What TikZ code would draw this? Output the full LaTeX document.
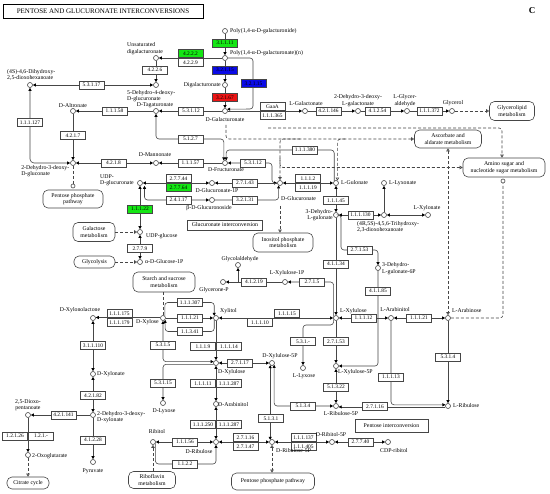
\documentclass[tikz,border=0pt]{standalone}
\usepackage{fontspec}
\setmainfont{Liberation Serif}
\usetikzlibrary{arrows.meta}
\definecolor{kgreen}{RGB}{20,230,20}
\definecolor{kblue}{RGB}{10,10,230}
\definecolor{kred}{RGB}{235,20,20}
\definecolor{kline}{RGB}{70,70,70}
\newcommand{\klf}{\fontsize{5.8}{6.3}\selectfont}
\newcommand{\kef}{\fontsize{5.4}{5.4}\selectfont}
\tikzset{
  cpd/.style={circle,draw=kline,fill=white,line width=0.6pt,inner sep=0pt,minimum size=5pt},
  jcpd/.style={circle,draw=kline,fill=white,line width=0.6pt,inner sep=0pt,minimum size=4pt},
  enz/.style={draw=kline,fill=white,line width=0.6pt,inner sep=0pt,minimum width=25pt,minimum height=8pt,font=\kef},
  genz/.style={enz,fill=kgreen},
  benz/.style={enz,fill=kblue},
  renz/.style={enz,fill=kred},
  lbl/.style={inner sep=0pt,font=\klf,align=center},
  mapbox/.style={draw=kline,fill=white,rounded corners=5pt,line width=0.6pt,inner sep=0pt,font=\klf,align=center},
  rbox/.style={draw=kline,fill=white,line width=0.6pt,inner sep=0pt,font=\klf,align=center},
  cn/.style={draw=kline,line width=0.6pt},
  ar/.style={cn,-{Triangle[length=3pt,width=3pt,color=black]}},
  ba/.style={cn,{Triangle[length=3pt,width=3pt,color=black]}-{Triangle[length=3pt,width=3pt,color=black]}},
  dl/.style={cn,dash pattern=on 3pt off 2pt},
  da/.style={dl,-{Triangle[open,length=3pt,width=3.5pt]}},
  dab/.style={dl,{Triangle[open,length=3pt,width=3.5pt]}-{Triangle[open,length=3pt,width=3.5pt]}},
}
\begin{document}
\begin{tikzpicture}[x=1pt,y=-1pt]
\useasboundingbox (0,0) rectangle (550,494);
\fill[white] (0,0) rectangle (550,494);

% title
\node[draw=black,line width=0.9pt,minimum width=200pt,minimum height=14pt,inner sep=0pt,font=\fontsize{7}{7}\selectfont] (title) at (103,11) {PENTOSE AND GLUCURONATE INTERCONVERSIONS};
\node[inner sep=0pt,font=\bfseries\fontsize{9}{9}\selectfont] (letterC) at (532,11) {C};

% compounds
\node[cpd] (poly1) at (225,31) {};
\node[cpd] (polyn) at (225,58) {};
\node[cpd] (unsat) at (156,58) {};
\node[cpd] (digal) at (225,85) {};
\node[cpd] (dgal) at (225,111) {};
\node[cpd] (dh4) at (156,85) {};
\node[cpd] (tag) at (156,111) {};
\node[cpd] (s46) at (30,85) {};
\node[cpd] (altr) at (73,111) {};
\node[cpd] (dd3g) at (73,163) {};
\node[cpd] (manno) at (156,163) {};
\node[cpd] (fruc) at (225,163) {};
\node[cpd] (udpA) at (140,183) {};
\node[cpd] (gA1P) at (212,183) {};
\node[cpd] (bglc) at (212,200) {};
\node[cpd] (glcA) at (280,183) {};
\node[cpd] (lgul) at (336,183) {};
\node[cpd] (dhlg) at (336,215) {};
\node[cpd] (trih) at (384,215) {};
\node[cpd] (llyx) at (384,183) {};
\node[cpd] (lxyl) at (428,215) {};
\node[cpd] (dhlg6) at (378,268) {};
\node[cpd] (udpg) at (140,232) {};
\node[cpd] (ag1p) at (140,262) {};
\node[cpd] (glyald) at (238,265) {};
\node[cpd] (glyp) at (223,282) {};
\node[cpd] (lxu1p) at (285,282) {};
\node[cpd] (dxyl) at (163,318) {};
\node[cpd] (xylt) at (216,318) {};
\node[cpd] (lxylu) at (336,318) {};
\node[cpd] (larab) at (391,318) {};
\node[cpd] (lara) at (448,318) {};
\node[cpd] (dxln) at (93,318) {};
\node[cpd] (dxla) at (93,374) {};
\node[cpd] (dd3x) at (93,415) {};
\node[cpd] (dioxo) at (28,415) {};
\node[cpd] (oxog) at (28,455) {};
\node[cpd] (pyr) at (93,462) {};
\node[cpd] (dxu) at (216,363) {};
\node[cpd] (dxu5p) at (272,363) {};
\node[cpd] (dlyx) at (163,403) {};
\node[cpd] (darab) at (216,404) {};
\node[cpd] (drib) at (216,442) {};
\node[cpd] (ribt) at (153,442) {};
\node[cpd] (dru5p) at (272,442) {};
\node[cpd] (drt5p) at (332,442) {};
\node[cpd] (cdp) at (388,442) {};
\node[cpd] (lxu5p) at (336,366) {};
\node[cpd] (llyxo) at (303,368) {};
\node[cpd] (lru5p) at (336,406) {};
\node[cpd] (lrib) at (448,406) {};
\node[cpd] (lgal) at (305,111) {};
\node[cpd] (dd3l) at (358,111) {};
\node[cpd] (lgly) at (407,111) {};
\node[cpd] (glyc) at (452,111) {};
\node[jcpd] (ppc) at (73,186) {};
\node[jcpd] (amc) at (503,181) {};

% pathway boxes
\node[mapbox,minimum width=45pt,minimum height=19pt] (glip) at (512,111) {Glycerolipid\\metabolism};
\node[mapbox,minimum width=67pt,minimum height=18pt] (asc) at (448,139) {Ascorbate and\\aldarate metabolism};
\node[mapbox,minimum width=82pt,minimum height=19pt] (amino) at (504,167.5) {Amino sugar and\\nucleotide sugar metabolism};
\node[mapbox,minimum width=60pt,minimum height=18pt] (ppt) at (73,199) {Pentose phosphate\\pathway};
\node[mapbox,minimum width=42pt,minimum height=19pt] (galm) at (94,232) {Galactose\\metabolism};
\node[mapbox,minimum width=41pt,minimum height=12pt] (glycm) at (94.5,262) {Glycolysis};
\node[mapbox,minimum width=62pt,minimum height=20pt] (starch) at (164,282) {Starch and sucrose\\metabolism};
\node[mapbox,minimum width=60pt,minimum height=19pt] (inos) at (283,242.5) {Inositol phosphate\\metabolism};
\node[mapbox,minimum width=42pt,minimum height=12pt] (citr) at (28,483) {Citrate cycle};
\node[mapbox,minimum width=47pt,minimum height=17pt] (ribof) at (152,480) {Riboflavin\\metabolism};
\node[mapbox,minimum width=83pt,minimum height=17pt] (ppb) at (273,481.5) {Pentose phosphate pathway};
\node[rbox,minimum width=75pt,minimum height=10pt] (gic) at (225,225) {Glucuronate interconversion};
\node[rbox,minimum width=73pt,minimum height=13pt] (pic) at (391.5,425.5) {Pentose interconversion};

% bend / junction coordinates
\coordinate (dgd) at (226,125);
\coordinate (j1) at (280,158);
\coordinate (j2) at (300,139);
\coordinate (j3) at (345,139);
\coordinate (j4) at (238,282);
\coordinate (j5) at (268,128);
\coordinate (c53) at (303,325);
\coordinate (gdash) at (280,206);

% connectors (top)
\draw[ar] (poly1) -- (polyn);
\draw[ar] (polyn) -- (unsat);
\draw[ar] (unsat) -- (dh4);
\draw[ar] (polyn) -- (digal);
\draw[ar,rounded corners=3pt] (polyn.east) -- (253,58) -- (253,109) -- (dgal.40);
\draw[ar] (digal) -- (dgal);
\draw[ba] (dh4) -- (s46);
\draw[ar] (dgal) -- (tag);
\draw[ar] (tag) -- (altr);
\draw[ar] (altr) -- (dd3g);
\draw[ba,rounded corners=4pt] (dd3g.west) -| (s46.south);
\draw[ba] (manno) -- (dd3g);
\draw[ar] (fruc) -- (manno);
\draw[ba,rounded corners=3pt] (tag.south) |- (200,139) -| (fruc.115);
\draw[ar,rounded corners=3pt] (lgul.130) |- (300,150) -| (fruc.65);
\draw[ba,rounded corners=3pt] (fruc.east) -- (272,163) |- (glcA.west);
\draw[ar] (dgal) -- (lgal);
\draw[ar] (lgal) -- (dd3l);
\draw[ar] (dd3l) -- (lgly);
\draw[ar] (lgly) -- (glyc);
\draw[da] (glyc) -- (glip);
\draw[dl] (dd3g) -- (ppc);

% dashed network
\draw[da,rounded corners=3pt] (dgd) |- (asc.west);
\draw[da,rounded corners=3pt] (j5) -| ([xshift=-2pt]amino.north);
\draw[da,rounded corners=3pt] (j2) -| (glcA.north);
\draw[da,rounded corners=3pt] (j3) -| (lgul.60);
\draw[da,rounded corners=3pt] (j1) |- (amino.west);
\draw[da] (gdash) -- (gdash |- inos.north);
\draw[dab] (asc.south) -- (lara.north);
\draw[dl,rounded corners=3pt] (lara.east) -| (amc.south);

% glucuronate block
\draw[ba] (udpA) -- (gA1P);
\draw[ar] (glcA) -- (gA1P);
\draw[ba,rounded corners=3pt] ([xshift=4.5pt]udpA.south) |- (bglc.west);
\draw[ar,rounded corners=3pt] (bglc.east) -| (glcA.240);
\draw[ba] (glcA) -- (lgul);
\draw[ba] (lgul) -- (dhlg);
\draw[ba] (dhlg) -- (trih);
\draw[ar] (trih) -- (llyx);
\draw[ba] (trih) -- (lxyl);
\draw[ar,rounded corners=3pt] (dhlg.east) -| (341,250) -| (dhlg6.north);
\draw[ar] (dhlg) -- (lxylu);
\draw[ar,rounded corners=3pt] (dhlg6.south) |- (lxu5p.east);
\draw[ba] (udpg) -- (udpA);
\draw[da] (galm) -- (udpg);
\draw[ba] (udpg) -- (ag1p);
\draw[da] (glycm) -- (ag1p);
\draw[ar] (lxu1p) -- (glyp);
\draw[ar] (j4) -- (glyald);
\draw[ar,rounded corners=3pt] (lxylu.150) |- (lxu1p.east);

% xylose block
\draw[dl] (dxyl |- starch.south) -- (dxyl.north);
\draw[ar,rounded corners=3pt] (dxyl.50) |- (190,302.5) -| (xylt.130);
\draw[ar,rounded corners=3pt] (xylt.230) |- (190,331.5) -| (dxyl.-40);
\draw[ar] (dxyl) -- (xylt);
\draw[ar] (xylt) -- (dxu);
\draw[ba] (xylt) -- (lxylu);
\draw[ba] (larab) -- (lxylu);
\draw[ba] (larab) -- (lara);
\draw[ar] (lara) -- (lrib);
\draw[ar,rounded corners=3pt] (larab.south) |- (lrib.155);
\draw[ar] (lrib.200) -- (lru5p.-20);
\draw[ar] (lxylu) -- (lxu5p);
\draw[ba] (lxu5p) -- (lru5p);
\draw[ba,rounded corners=3pt] (lru5p.west) -| (dxu5p.-40);
\draw[ar,rounded corners=3pt] (lxylu.210) |- (c53) -- (llyxo.north);
\draw[ba,rounded corners=3pt] (dxyl.south) |- (dxu.150);
\draw[ar,rounded corners=3pt] (dxu.210) -| (dlyx.north);
\draw[ba] (dxu) -- (dxu5p);
\draw[ba] (dxu) -- (darab);
\draw[ba] (darab) -- (drib);
\draw[ba] (ribt) -- (drib);
\draw[ar,rounded corners=3pt] (ribt.-30) |- (185,464) -| (drib.south);
\draw[da] (ribt.south |- ribof.north) -- (ribt.south);
\draw[ba] (drib) -- (dru5p);
\draw[ba] (dxu5p.-130) -- (dru5p.130);
\draw[ba] (drt5p) -- (dru5p);
\draw[ba] (drt5p) -- (cdp);
\draw[dab] (dru5p.south) -- (dru5p.south |- ppb.north);

% xylonate block
\draw[ar] (dxyl.170) -- (dxln.10);
\draw[ba] (dxln) -- (dxla);
\draw[ba] (dxla) -- (dd3x);
\draw[ar] (dd3x) -- (dioxo);
\draw[ar] (dioxo) -- (oxog);
\draw[da] (oxog) -- (citr);
\draw[ar] (dd3x) -- (pyr);

% enzymes
\node[genz] (e1) at (225,43) {3.1.1.11};
\node[genz] (e2) at (190.5,53.5) {4.2.2.2};
\node[enz] (e3) at (190.5,62.5) {4.2.2.9};
\node[enz] (e4) at (155,70) {4.2.2.6};
\node[benz] (e5) at (225,70) {3.2.1.15};
\node[benz] (e6) at (253.5,83.5) {3.2.1.15};
\node[renz] (e7) at (225,97.5) {3.2.1.67};
\node[enz] (e8) at (91.5,85) {5.3.1.17};
\node[enz] (e9) at (114.5,111) {1.1.1.58};
\node[enz] (e10) at (30,122.5) {1.1.1.127};
\node[enz] (e11) at (73,135.5) {4.2.1.7};
\node[enz] (e12) at (113.5,163) {4.2.1.8};
\node[enz] (e13) at (191,111) {5.3.1.12};
\node[enz] (e14) at (190.5,139) {5.1.2.7};
\node[enz] (e15) at (190.5,163) {1.1.1.57};
\node[enz] (e16) at (253,163) {5.3.1.12};
\node[enz] (e17) at (272.5,106.5) {GaaA};
\node[enz] (e18) at (272.5,115.5) {1.1.1.365};
\node[enz] (e19) at (328.5,111) {4.2.1.146};
\node[enz] (e20) at (377.5,111) {4.1.2.54};
\node[enz] (e21) at (429.5,111) {1.1.1.372};
\node[enz] (e22) at (305,150) {1.1.1.380};
\node[enz] (e23) at (178.5,178.5) {2.7.7.44};
\node[genz] (e24) at (178.5,187.5) {2.7.7.64};
\node[enz] (e25) at (245,183) {2.7.1.43};
\node[enz] (e26) at (178.5,200) {2.4.1.17};
\node[enz] (e27) at (245,200) {3.2.1.31};
\node[enz] (e28) at (308,178.5) {1.1.1.2};
\node[enz] (e29) at (308,187.5) {1.1.1.19};
\node[enz] (e30) at (336,200.5) {1.1.1.45};
\node[enz] (e31) at (360.5,215) {1.1.1.130};
\node[genz] (e32) at (140,209) {1.1.1.22};
\node[enz] (e33) at (140,248.5) {2.7.7.9};
\node[enz] (e34) at (359.5,250) {2.7.1.53};
\node[enz] (e35) at (336,264) {4.1.1.34};
\node[enz] (e36) at (378,291) {4.1.1.85};
\node[enz] (e37) at (254,282) {4.1.2.19};
\node[enz] (e38) at (312,282) {2.7.1.5};
\node[enz] (e39) at (190,302.5) {1.1.1.307};
\node[enz] (e40) at (190,318) {1.1.1.21};
\node[enz] (e41) at (190,331.5) {1.1.3.41};
\node[enz] (e42) at (287,313.5) {1.1.1.15};
\node[enz] (e43) at (260,322.5) {1.1.1.10};
\node[enz] (e44) at (363.5,318) {1.1.1.12};
\node[enz] (e45) at (419,318) {1.1.1.21};
\node[enz] (e46) at (119.5,313.5) {1.1.1.175};
\node[enz] (e47) at (119.5,322.5) {1.1.1.179};
\node[enz] (e48) at (93,345.5) {3.1.1.110};
\node[enz] (e49) at (163,345) {5.3.1.5};
\node[enz] (e50) at (203,346.5) {1.1.1.9};
\node[enz] (e51) at (229,346.5) {1.1.1.14};
\node[enz] (e52) at (303,341.5) {5.3.1.-};
\node[enz] (e53) at (336,341.5) {2.7.1.53};
\node[enz] (e54) at (448,357) {5.3.1.4};
\node[enz] (e55) at (240,363) {2.7.1.17};
\node[enz] (e56) at (391,377) {1.1.1.13};
\node[enz] (e57) at (163,383) {5.3.1.15};
\node[enz] (e58) at (203,383.5) {1.1.1.11};
\node[enz] (e59) at (229,383.5) {1.1.1.287};
\node[enz] (e60) at (336,387) {5.1.3.22};
\node[enz] (e61) at (93,395.5) {4.2.1.82};
\node[enz] (e62) at (303,406) {5.1.3.4};
\node[enz] (e63) at (375,406.8) {2.7.1.16};
\node[enz] (e64) at (63.5,415) {4.2.1.141};
\node[enz] (e65) at (271,418.5) {5.1.3.1};
\node[enz] (e66) at (203,424.5) {1.1.1.250};
\node[enz] (e67) at (229,424.5) {1.1.1.287};
\node[enz] (e68) at (15,436) {1.2.1.26};
\node[enz] (e69) at (41,436) {1.2.1.-};
\node[enz] (e70) at (93,440) {4.1.2.28};
\node[enz] (e71) at (303.5,437.5) {1.1.1.137};
\node[enz] (e72) at (303.5,446.5) {1.1.1.405};
\node[enz] (e73) at (185,442) {1.1.1.56};
\node[enz] (e74) at (245.5,437.5) {2.7.1.16};
\node[enz] (e75) at (245.5,446.5) {2.7.1.47};
\node[enz] (e76) at (360.5,442) {2.7.7.40};
\node[enz] (e77) at (185,464) {1.1.2.2};

% labels
\node[lbl,anchor=west] (l1) at (230,31) {Poly(1,4-α-D-galacturonide)};
\node[lbl,anchor=west] (l2) at (230,53) {Poly(1,4-α-D-galacturonate)(n)};
\node[lbl,anchor=west,align=left] (l3) at (127,48.5) {Unsaturated\\digalacturonate};
\node[lbl,anchor=east] (l4) at (221,85) {Digalacturonate};
\node[lbl] (l5) at (225,119.5) {D-Galacturonate};
\node[lbl,anchor=north west,align=left] (l6) at (127,90) {5-Dehydro-4-deoxy-\\D-glucuronate};
\node[lbl] (l7) at (155,105.5) {D-Tagaturonate};
\node[lbl,anchor=west,align=left] (l8) at (7,75) {(4S)-4,6-Dihydroxy-\\2,5-dioxohexanoate};
\node[lbl] (l9) at (73,105.5) {D-Altronate};
\node[lbl,anchor=north east,align=left] (l10) at (69.5,165) {2-Dehydro-3-deoxy-\\D-gluconate};
\node[lbl] (l11) at (155,155) {D-Mannonate};
\node[lbl] (l12) at (226,170) {D-Fructuronate};
\node[lbl,anchor=west,align=left] (l13) at (100,180) {UDP-\\D-glucuronate};
\node[lbl] (l14) at (217,191) {D-Glucuronate-1P};
\node[lbl] (l15) at (209,208) {β-D-Glucuronoside};
\node[lbl,anchor=west] (l16) at (281,199) {D-Glucuronate};
\node[lbl,anchor=west] (l17) at (341,183) {L-Gulonate};
\node[lbl,anchor=east,align=right] (l18) at (333,215) {3-Dehydro-\\L-gulonate};
\node[lbl,anchor=north west,align=left] (l19) at (357,221) {(4R,5S)-4,5,6-Trihydroxy-\\2,3-dioxohexanoate};
\node[lbl,anchor=west] (l20) at (389,183) {L-Lyxonate};
\node[lbl] (l21) at (427,208) {L-Xylonate};
\node[lbl,anchor=west,align=left] (l22) at (382,268.5) {3-Dehydro-\\L-gulonate-6P};
\node[lbl,anchor=west] (l23) at (146,236.5) {UDP-glucose};
\node[lbl,anchor=west] (l24) at (145,262) {α-D-Glucose-1P};
\node[lbl] (l25) at (240,259) {Glycolaldehyde};
\node[lbl] (l26) at (214,290) {Glycerone-P};
\node[lbl] (l27) at (287,273) {L-Xylulose-1P};
\node[lbl,anchor=north east] (l28) at (159,319.5) {D-Xylose};
\node[lbl,anchor=west] (l29) at (220,311) {Xylitol};
\node[lbl,anchor=west] (l30) at (340,311) {L-Xylulose};
\node[lbl] (l31) at (395,310) {L-Arabinitol};
\node[lbl,anchor=west] (l32) at (452,311) {L-Arabinose};
\node[lbl] (l33) at (80,310) {D-Xylonolactone};
\node[lbl,anchor=west] (l34) at (97,374) {D-Xylonate};
\node[lbl,anchor=north west,align=left] (l35) at (97,411) {2-Dehydro-3-deoxy-\\D-xylonate};
\node[lbl] (l36) at (28,405) {2,5-Dioxo-\\pentanoate};
\node[lbl,anchor=west] (l37) at (32,456) {2-Oxoglutarate};
\node[lbl] (l38) at (93,471) {Pyruvate};
\node[lbl,anchor=west] (l39) at (218,372.5) {D-Xylulose};
\node[lbl] (l40) at (280,356.5) {D-Xylulose-5P};
\node[lbl] (l41) at (164,411) {D-Lyxose};
\node[lbl,anchor=west] (l42) at (218,405) {D-Arabinitol};
\node[lbl] (l43) at (199,452) {D-Ribulose};
\node[lbl] (l44) at (157,432) {Ribitol};
\node[lbl,anchor=west] (l45) at (276,450.5) {D-Ribulose-5P};
\node[lbl] (l46) at (331,435) {D-Ribitol-5P};
\node[lbl,anchor=west] (l47) at (380,451) {CDP-ribitol};
\node[lbl,anchor=west] (l48) at (338,372.5) {L-Xylulose-5P};
\node[lbl] (l49) at (304,376) {L-Lyxose};
\node[lbl] (l50) at (341,414) {L-Ribulose-5P};
\node[lbl,anchor=west] (l51) at (453,406) {L-Ribulose};
\node[lbl] (l52) at (306,103.5) {L-Galactonate};
\node[lbl] (l53) at (358,100.5) {2-Dehydro-3-deoxy-\\L-galactonate};
\node[lbl] (l54) at (405,100.5) {L-Glycer-\\aldehyde};
\node[lbl] (l55) at (453,103.5) {Glycerol};
\end{tikzpicture}
\end{document}
